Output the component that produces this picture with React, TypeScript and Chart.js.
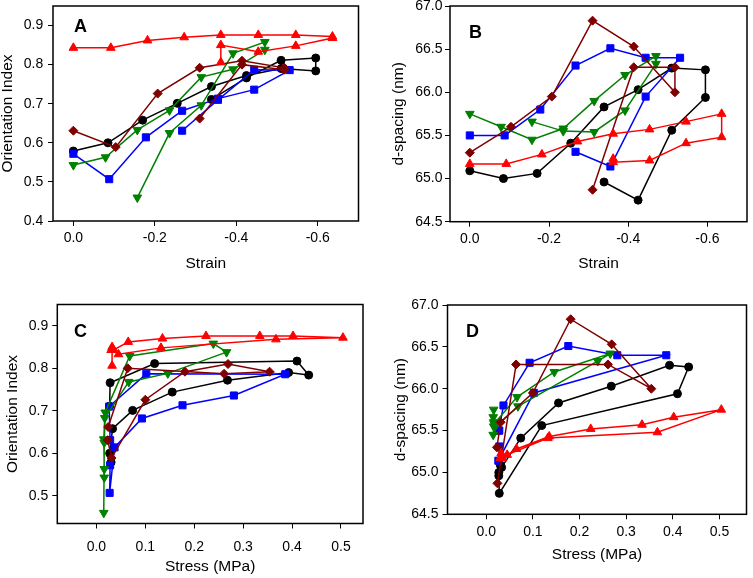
import React, { useEffect, useRef } from "react";
import { Chart, registerables } from "chart.js";
Chart.register(...registerables);

// ---------- data (each series: strain, stress, orientation index, d-spacing) ----------
const BLACK_STRAIN = [0, -0.085, -0.17, -0.255, -0.339, -0.425, -0.51, -0.595, -0.595, -0.51, -0.425, -0.339];
const BLACK_STRESS = [0.030, 0.027, 0.033, 0.074, 0.155, 0.268, 0.393, 0.434, 0.410, 0.119, 0.028, 0.027];
const BLACK_ORIENT = [0.579, 0.600, 0.658, 0.701, 0.744, 0.772, 0.790, 0.784, 0.817, 0.811, 0.766, 0.711];
const BLACK_DSPACE = [65.09, 65.0, 65.06, 65.41, 65.83, 66.03, 66.28, 66.26, 65.94, 65.56, 64.75, 64.96];

const BLUE_STRAIN = [0, -0.088, -0.178, -0.267, -0.355, -0.444, -0.531, -0.444, -0.355, -0.267];
const BLUE_STRESS = [0.028, 0.027, 0.037, 0.093, 0.176, 0.281, 0.386, 0.102, 0.026, 0.028];
const BLUE_ORIENT = [0.572, 0.507, 0.614, 0.682, 0.713, 0.736, 0.786, 0.787, 0.710, 0.631];
const BLUE_DSPACE = [65.50, 65.50, 65.80, 66.31, 66.51, 66.40, 66.40, 65.95, 65.14, 65.31];

const GREEN_STRAIN = [0, -0.079, -0.157, -0.236, -0.314, -0.392, -0.470, -0.470, -0.392, -0.314, -0.236, -0.157];
const GREEN_STRESS = [0.016, 0.016, 0.015, 0.017, 0.066, 0.146, 0.266, 0.239, 0.068, 0.018, 0.016, 0.015];
const GREEN_ORIENT = [0.543, 0.563, 0.633, 0.683, 0.768, 0.788, 0.838, 0.858, 0.829, 0.696, 0.625, 0.460];
const GREEN_DSPACE = [65.75, 65.60, 65.45, 65.58, 65.90, 66.20, 66.42, 66.33, 65.79, 65.54, 65.55, 65.66];

const MAROON_STRAIN = [0, -0.104, -0.207, -0.310, -0.414, -0.518, -0.518, -0.414, -0.310];
const MAROON_STRESS = [0.023, 0.031, 0.100, 0.181, 0.269, 0.354, 0.261, 0.064, 0.024];
const MAROON_ORIENT = [0.631, 0.589, 0.726, 0.792, 0.810, 0.792, 0.787, 0.800, 0.662];
const MAROON_DSPACE = [65.30, 65.60, 65.95, 66.83, 66.53, 66.00, 66.29, 66.29, 64.87];

const RED_STRAIN = [0, -0.092, -0.182, -0.272, -0.362, -0.454, -0.546, -0.636, -0.636, -0.546, -0.454, -0.362, -0.362];
const RED_STRESS = [0.030, 0.035, 0.065, 0.135, 0.224, 0.334, 0.402, 0.504, 0.367, 0.132, 0.045, 0.032, 0.032];
const RED_ORIENT = [0.843, 0.843, 0.862, 0.870, 0.876, 0.876, 0.876, 0.872, 0.868, 0.848, 0.833, 0.850, 0.806];
const RED_DSPACE = [65.17, 65.17, 65.28, 65.43, 65.52, 65.57, 65.66, 65.75, 65.48, 65.41, 65.21, 65.19, 65.23];

// ---------- tick labels ----------
const STRAIN_TICKS = [0, -0.2, -0.4, -0.6];
const STRESS_TICKS = [0, 0.1, 0.2, 0.3, 0.4, 0.5];
const ORIENT_TICKS_A = [0.4, 0.5, 0.6, 0.7, 0.8, 0.9];
const ORIENT_TICKS_C = [0.5, 0.6, 0.7, 0.8, 0.9];
const DSPACE_TICKS = [64.5, 65.0, 65.5, 66.0, 66.5, 67.0];

const FONT = "Arial, 'Liberation Sans', Helvetica, sans-serif";

type Series = {
  color: string; style: string; radius: number; rotation: number; order: number;
  strain: number[]; stress: number[]; orient: number[]; dspace: number[];
};

const SERIES: Series[] = [
  { color: "#000000", style: "circle", radius: 4, rotation: 0, order: 5, strain: BLACK_STRAIN, stress: BLACK_STRESS, orient: BLACK_ORIENT, dspace: BLACK_DSPACE },
  { color: "#0000ff", style: "rect", radius: 5, rotation: 0, order: 4, strain: BLUE_STRAIN, stress: BLUE_STRESS, orient: BLUE_ORIENT, dspace: BLUE_DSPACE },
  { color: "#008000", style: "triangle", radius: 5, rotation: 180, order: 3, strain: GREEN_STRAIN, stress: GREEN_STRESS, orient: GREEN_ORIENT, dspace: GREEN_DSPACE },
  { color: "#800000", style: "rectRot", radius: 4.5, rotation: 0, order: 2, strain: MAROON_STRAIN, stress: MAROON_STRESS, orient: MAROON_ORIENT, dspace: MAROON_DSPACE },
  { color: "#ff0000", style: "triangle", radius: 5, rotation: 0, order: 1, strain: RED_STRAIN, stress: RED_STRESS, orient: RED_ORIENT, dspace: RED_DSPACE },
];

type PanelCfg = {
  letter: string; letterX: number; letterY: number;
  xKey: "strain" | "stress"; yKey: "orient" | "dspace";
  xMin: number; xMax: number; reverse: boolean; xTicks: number[];
  yMin: number; yMax: number; yTicks: number[];
  area: { l: number; t: number; r: number; b: number };
  yW: number; xH: number; xTitle: string; yTitle: string; xPad: number; yPad: number;
};

const PANELS: PanelCfg[] = [
  {
    letter: "A", letterX: 74, letterY: 32.3, xKey: "strain", yKey: "orient",
    xMin: -0.7, xMax: 0.05, reverse: true, xTicks: STRAIN_TICKS,
    yMin: 0.4, yMax: 0.95, yTicks: ORIENT_TICKS_A,
    area: { l: 53, t: 1, r: 358.5, b: 221 }, yW: 53, xH: 50,
    xTitle: "Strain", yTitle: "Orientation Index", xPad: 5.5, yPad: 4.7,
  },
  {
    letter: "B", letterX: 469, letterY: 38.3, xKey: "strain", yKey: "dspace",
    xMin: -0.7, xMax: 0.05, reverse: true, xTicks: STRAIN_TICKS,
    yMin: 64.5, yMax: 67.0, yTicks: DSPACE_TICKS,
    area: { l: 450, t: 5.7, r: 747.3, b: 221.7 }, yW: 59.2, xH: 49.3,
    xTitle: "Strain", yTitle: "d-spacing (nm)", xPad: 5.7, yPad: 2.5,
  },
  {
    letter: "C", letterX: 74, letterY: 336.7, xKey: "stress", yKey: "orient",
    xMin: -0.08, xMax: 0.545, reverse: false, xTicks: STRESS_TICKS,
    yMin: 0.435, yMax: 0.95, yTicks: ORIENT_TICKS_C,
    area: { l: 57.3, t: 304.5, r: 363, b: 523.5 }, yW: 52.5, xH: 50.5,
    xTitle: "Stress (MPa)", yTitle: "Orientation Index", xPad: 11.3, yPad: 4,
  },
  {
    letter: "D", letterX: 466, letterY: 336.5, xKey: "stress", yKey: "dspace",
    xMin: -0.083, xMax: 0.558, reverse: false, xTicks: STRESS_TICKS,
    yMin: 64.5, yMax: 67.0, yTicks: DSPACE_TICKS,
    area: { l: 447.5, t: 305, r: 746.5, b: 514.3 }, yW: 54.5, xH: 48,
    xTitle: "Stress (MPa)", yTitle: "d-spacing (nm)", xPad: 5.5, yPad: 4,
  },
];

const W = 753;
const H = 578;

const framePlugin = {
  id: "frame",
  afterDraw(chart: any, _args: any, opts: any) {
    const { ctx, chartArea: a } = chart;
    ctx.save();
    ctx.strokeStyle = "#000";
    ctx.lineWidth = 1.5;
    ctx.strokeRect(a.left, a.top, a.right - a.left, a.bottom - a.top);
    ctx.font = `bold 18px ${FONT}`;
    ctx.fillStyle = "#000";
    ctx.textBaseline = "alphabetic";
    ctx.textAlign = "left";
    ctx.fillText(opts.letter, opts.x, opts.y);
    ctx.restore();
  },
};

function Panel({ cfg }: { cfg: PanelCfg }) {
  const ref = useRef<HTMLCanvasElement | null>(null);
  useEffect(() => {
    const canvas = ref.current!;
    const datasets = SERIES.map((s) => {
      const xs = s[cfg.xKey];
      const ys = s[cfg.yKey];
      return {
        data: xs.map((x, i) => ({ x, y: ys[i] })),
        showLine: true,
        borderColor: s.color,
        backgroundColor: s.color,
        borderWidth: 1.5,
        pointStyle: s.style,
        pointRadius: s.radius,
        pointRotation: s.rotation,
        pointBackgroundColor: s.color,
        pointBorderColor: s.color,
        pointBorderWidth: 1,
        order: s.order,
        clip: false,
      };
    });
    const tickFont = { family: FONT, size: 14, lineHeight: 1 };
    const titleFont = { family: FONT, size: 15.5, lineHeight: 1 };
    const a = cfg.area;
    const chart = new Chart(canvas, {
      type: "scatter",
      data: { datasets } as any,
      plugins: [framePlugin],
      options: {
        animation: false,
        responsive: false,
        devicePixelRatio: 1,
        events: [],
        layout: {
          padding: {
            left: a.l - cfg.yW,
            top: a.t,
            right: W - a.r,
            bottom: H - a.b - cfg.xH,
          },
        },
        plugins: {
          legend: { display: false },
          tooltip: { enabled: false },
          frame: { letter: cfg.letter, x: cfg.letterX, y: cfg.letterY },
        } as any,
        scales: {
          x: {
            type: "linear",
            min: cfg.xMin,
            max: cfg.xMax,
            reverse: cfg.reverse,
            border: { display: false },
            grid: { display: true, drawOnChartArea: false, drawTicks: true, tickLength: 5, tickColor: "#000", tickWidth: 1 },
            ticks: {
              font: tickFont, color: "#000", padding: cfg.xPad, maxRotation: 0, autoSkip: false,
              callback: (v: any) => Number(v).toFixed(1),
            },
            title: { display: true, text: cfg.xTitle, font: titleFont, color: "#000", padding: 0 },
            afterBuildTicks: (s: any) => { s.ticks = cfg.xTicks.map((v) => ({ value: v })); },
            afterFit: (s: any) => {
              s.height = cfg.xH;
              s.paddingLeft = 0; s.paddingRight = 0; s.paddingTop = 0; s.paddingBottom = 0;
            },
          },
          y: {
            type: "linear",
            min: cfg.yMin,
            max: cfg.yMax,
            border: { display: false },
            grid: { display: true, drawOnChartArea: false, drawTicks: true, tickLength: 5, tickColor: "#000", tickWidth: 1 },
            ticks: {
              font: tickFont, color: "#000", padding: cfg.yPad, autoSkip: false,
              callback: (v: any) => Number(v).toFixed(1),
            },
            title: { display: true, text: cfg.yTitle, font: titleFont, color: "#000", padding: 0 },
            afterBuildTicks: (s: any) => { s.ticks = cfg.yTicks.map((v) => ({ value: v })); },
            afterFit: (s: any) => {
              s.width = cfg.yW;
              s.paddingLeft = 0; s.paddingRight = 0; s.paddingTop = 0; s.paddingBottom = 0;
            },
          },
        },
      } as any,
    });
    return () => chart.destroy();
  }, [cfg]);
  return (
    <canvas
      ref={ref}
      width={W}
      height={H}
      style={{ position: "absolute", left: 0, top: 0, width: W, height: H }}
    />
  );
}

export default function App() {
  return (
    <div style={{ position: "absolute", left: 0, top: 0, width: W, height: H, background: "#fff", overflow: "hidden" }}>
      {PANELS.map((p) => (
        <Panel key={p.letter} cfg={p} />
      ))}
    </div>
  );
}
